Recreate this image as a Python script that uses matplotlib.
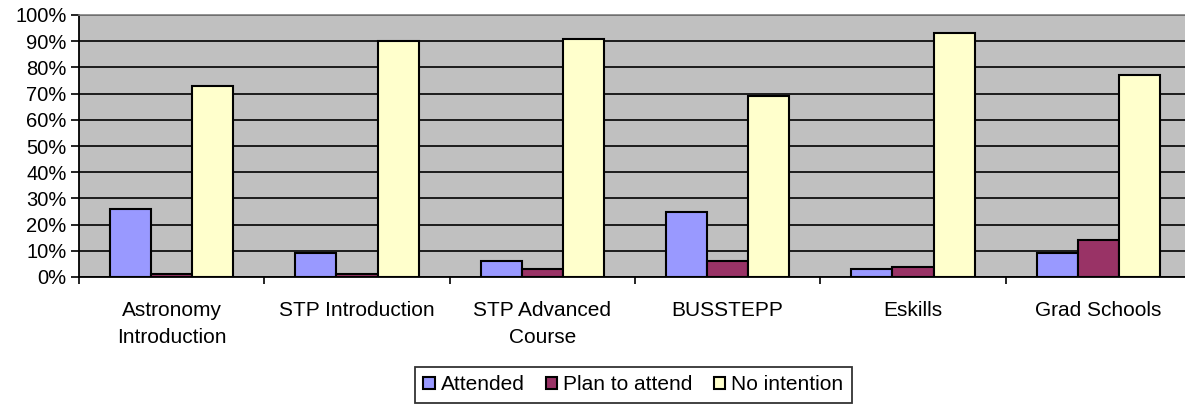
import matplotlib
matplotlib.use("Agg")
import matplotlib.pyplot as plt
import numpy as np
from matplotlib.patches import Patch

categories = ["Astronomy\nIntroduction", "STP Introduction", "STP Advanced\nCourse",
              "BUSSTEPP", "Eskills", "Grad Schools"]
attended = [26, 9, 6, 25, 3, 9]
plan_to_attend = [1, 1, 3, 6, 4, 14]
no_intention = [73, 90, 91, 69, 93, 77]
series_names = ["Attended", "Plan to attend", "No intention"]
colors = ["#9999FF", "#993366", "#FFFFCC"]
yticks = list(range(0, 101, 10))

plt.rcParams['font.family'] = ['Liberation Sans', 'DejaVu Sans']

fig = plt.figure(figsize=(11.85, 4.05), dpi=100)
W, H = 1185, 405
ax = fig.add_axes([79 / W, 1 - 277 / H, (1191 - 79) / W, (277 - 15) / H])
ax.set_facecolor("#C0C0C0")

x = np.arange(len(categories))
bw = 0.222
for i, (vals, col) in enumerate(zip([attended, plan_to_attend, no_intention], colors)):
    ax.bar(x + (i - 1) * bw, vals, width=bw, color=col, edgecolor="black",
           linewidth=1.5, zorder=3)

ax.set_ylim(0, 100)
ax.set_xlim(-0.5, len(categories) - 0.5)
ax.set_yticks(yticks)
ax.set_yticklabels([f"{v}%" for v in yticks], fontsize=14.5)
ax.yaxis.grid(True, color="black", linewidth=1.2, zorder=1)
ax.set_axisbelow(True)

ax.set_xticks(np.arange(len(categories) + 1) - 0.5)
ax.set_xticklabels([])
ax.set_xticks(x, minor=True)
ax.set_xticklabels(categories, minor=True, fontsize=15, linespacing=1.55)
ax.tick_params(axis="x", which="minor", length=0, pad=17)
ax.tick_params(axis="x", which="major", length=5, width=1.2, direction="out")
ax.tick_params(axis="y", length=6, width=1.2, direction="out", pad=3)

for s in ["left", "bottom"]:
    ax.spines[s].set_color("black")
    ax.spines[s].set_linewidth(1.3)
ax.spines["top"].set_color("#808080")
ax.spines["top"].set_linewidth(1.2)
ax.spines["right"].set_visible(False)

handles = [Patch(facecolor=c, edgecolor="black", linewidth=1.5, label=n)
           for c, n in zip(colors, series_names)]
leg = fig.legend(handles=handles, loc="upper left", bbox_to_anchor=(415 / W, 1 - 367 / H),
                 ncol=3, fontsize=15, frameon=True, fancybox=False, edgecolor="black",
                 handlelength=0.55, handleheight=0.55, handletextpad=0.3, columnspacing=1.0,
                 borderpad=0.4, borderaxespad=0)
leg.get_frame().set_linewidth(1.3)

fig.savefig("out.png", dpi=100)
